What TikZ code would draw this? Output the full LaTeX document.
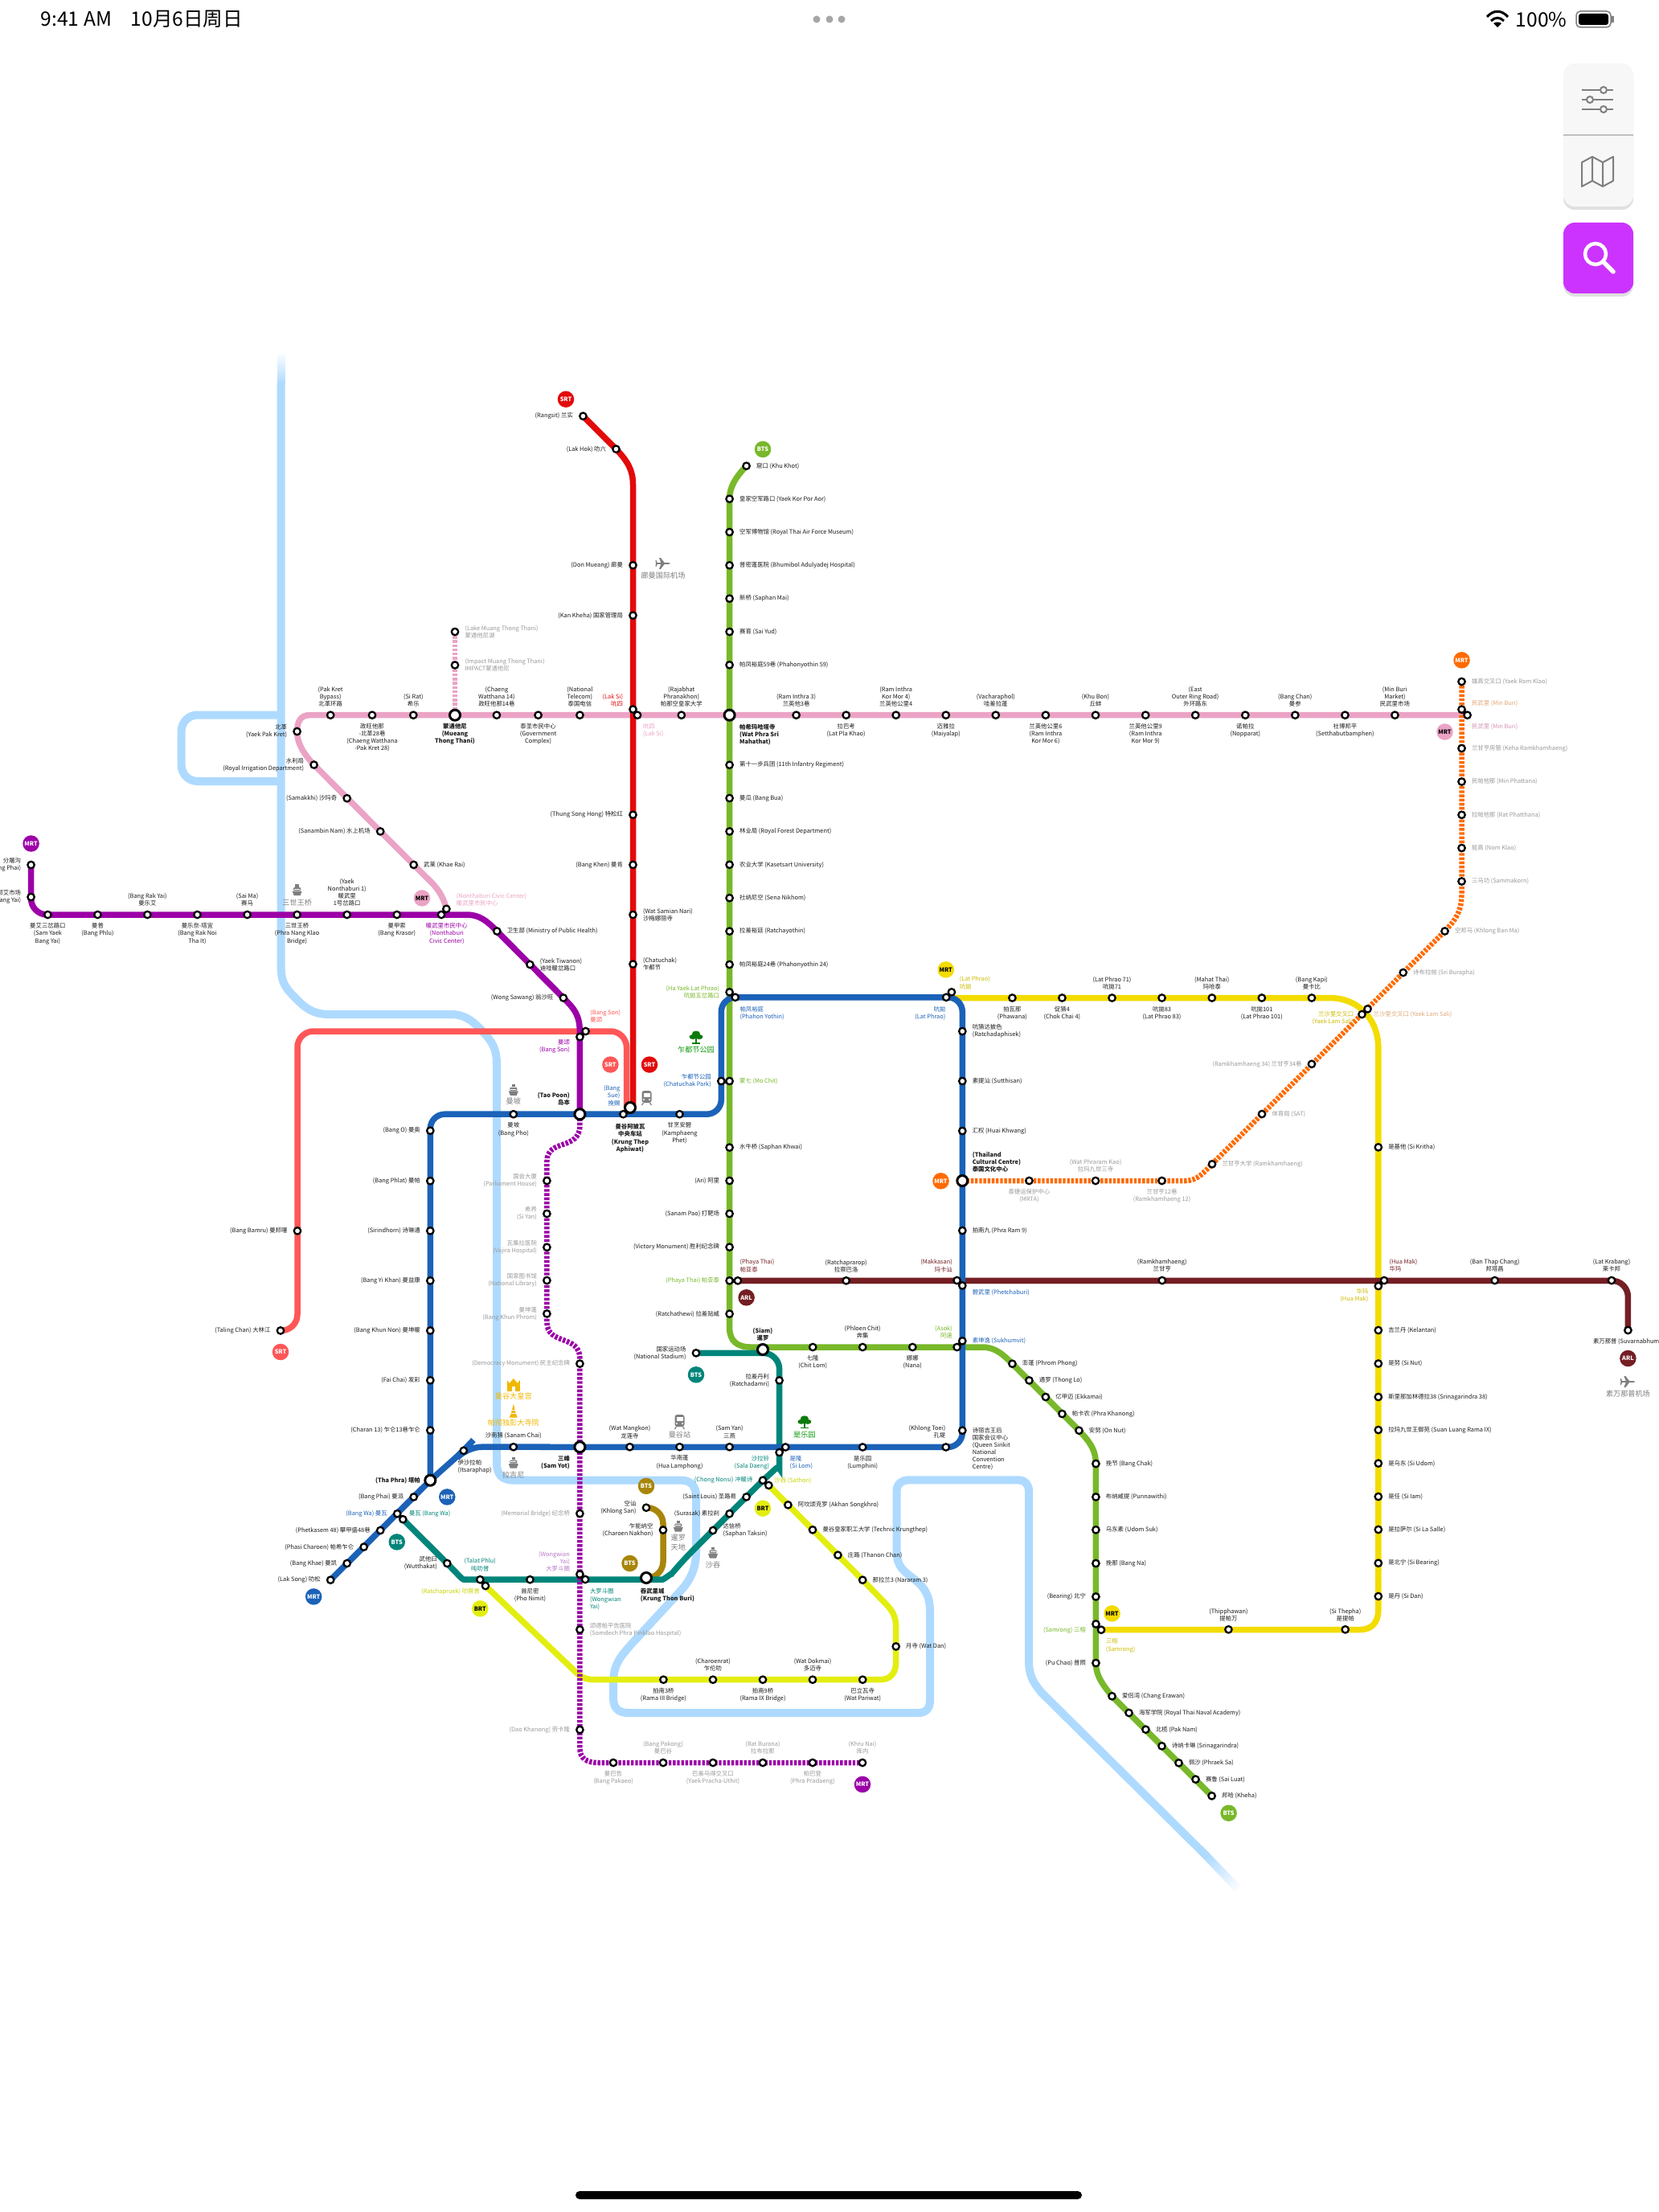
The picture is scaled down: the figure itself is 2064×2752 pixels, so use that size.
\documentclass[tikz,border=0pt]{standalone}
\usepackage{fontspec}
\setmainfont{Noto Sans CJK SC}
\usetikzlibrary{positioning,backgrounds}

\definecolor{ink}{HTML}{1C1C1C}
\definecolor{labgray}{HTML}{9A9A9A}
\definecolor{river}{HTML}{AEDAFF}
\definecolor{cred}{HTML}{E30A0A}
\definecolor{clight}{HTML}{FF5757}
\definecolor{cpink}{HTML}{EBA3C5}
\definecolor{cgreen}{HTML}{78B82A}
\definecolor{cblue}{HTML}{1B62B8}
\definecolor{cyellow}{HTML}{F3DC00}
\definecolor{cpurple}{HTML}{9C00A8}
\definecolor{corange}{HTML}{FF6A00}
\definecolor{cteal}{HTML}{00857A}
\definecolor{cmaroon}{HTML}{741F24}
\definecolor{cgold}{HTML}{A8860A}
\definecolor{clime}{HTML}{E3EE10}
\definecolor{tyellow}{HTML}{CDBB00}
\definecolor{tlime}{HTML}{C8D400}
\definecolor{torange}{HTML}{E0A878}
\definecolor{tmauve}{HTML}{B878C8}
\definecolor{ticon}{HTML}{7F7F7F}
\definecolor{tgold}{HTML}{F0B800}
\definecolor{tpark}{HTML}{0F9A0F}
\definecolor{csearch}{HTML}{CC33FF}

\tikzset{
  stn/.style={circle,draw=black,fill=white,line width=0.023cm,minimum size=0.084cm,inner sep=0pt},
  stnbig/.style={stn,line width=0.03cm,minimum size=0.13cm},
  lbl/.style={font=\fontsize{2.1}{2.6}\selectfont,inner sep=0pt,outer sep=0pt,text=ink},
  bld/.style={font=\fontsize{2.1}{2.6}\selectfont\bfseries},
  gry/.style={text=labgray},
  lalign-right/.style={align=left},
  lalign-left/.style={align=right},
  lalign-above/.style={align=center},
  lalign-below/.style={align=center},
  rail/.style={line width=0.075cm},
  raild/.style={line width=0.065cm,dash pattern=on 0.034cm off 0.018cm},
  link/.style={line width=0.05cm,black},
  badge/.style={circle,inner sep=0pt,minimum size=0.205cm,font=\fontsize{2.1}{2.6}\selectfont\bfseries},
  boat/.pic={
    \fill[ticon] (-6,1.5) -- (6,1.5) -- (4,7) -- (-4,7) -- cycle;
    \fill[ticon,rounded corners=0.01cm] (-4.5,-3) rectangle (4.5,1);
    \fill[ticon] (-2.2,-7) rectangle (2.2,-3.5);
    \draw[white,line width=0.006cm] (-3.5,-1) -- (3.5,-1);
  },
  trainicon/.pic={
    \fill[ticon,rounded corners=0.03cm] (-6,-9) rectangle (6,6);
    \fill[white] (-4,-6) rectangle (4,-1);
    \fill[white] (-3.5,2) circle (0.012cm) (3.5,2) circle (0.012cm);
    \draw[ticon,line width=0.012cm] (-4,6) -- (-6,9) (4,6) -- (6,9);
  },
  treeicon/.pic={
    \fill[tpark!80!black] (0,-5) ellipse (0.05cm and 0.035cm) (-4,-1) ellipse (0.045cm and 0.03cm) (4,-1) ellipse (0.045cm and 0.03cm);
    \fill[tpark!80!black] (-1,0) rectangle (1,6);
    \fill[tpark!80!black] (-5,6) rectangle (5,7.5);
  },
  palaceicon/.pic={
    \fill[tgold] (-8,8) rectangle (8,-1);
    \fill[tgold] (-8,-1) -- (-8,-6) -- (-5,-2) -- (0,-8) -- (5,-2) -- (8,-6) -- (8,-1) -- cycle;
    \fill[white] (-2,8) rectangle (2,2);
  },
  templeicon/.pic={
    \fill[tgold] (0,-10) -- (2,-2) -- (3,2) -- (5,7) -- (-5,7) -- (-3,2) -- (-2,-2) -- cycle;
    \draw[white,line width=0.006cm] (-3,2) -- (3,2) (-2,-2) -- (2,-2);
  },
  planeicon/.pic={
    \fill[ticon] (-8,-0.9) -- (7,-0.9) -- (9,0) -- (7,0.9) -- (-8,0.9) -- cycle;
    \fill[ticon] (2,-0.5) -- (-3,-7) -- (-5,-7) -- (-2.5,-0.5) -- cycle;
    \fill[ticon] (2,0.5) -- (-3,7) -- (-5,7) -- (-2.5,0.5) -- cycle;
    \fill[ticon] (-7,0) -- (-8.5,-4) -- (-9.5,-4) -- (-9,0) -- (-9.5,4) -- (-8.5,4) -- cycle;
  }
}

% station and its label: name, position, side of the label, label options, text
\newcommand{\stn}[6][stn]{%
  \node[#1] (#2) at (#3) {};
  \node[lbl,lalign-#4,#5,#4=of #2.center] (#2-t) {#6};
}

\begin{document}
\begin{tikzpicture}[x=0.01cm,y=-0.01cm,node distance=0.105cm and 0.125cm]
\useasboundingbox (0,0) rectangle (2064,2752);

%%% red line
\stn{rangsit}{725.4,517.7}{left}{}{(Rangsit) 兰实}
\stn{lakhok}{766.5,558.7}{left}{}{(Lak Hok) 叻六}
\foreach \nm/\yy/\lb in {donmueang/703.3/(Don Mueang) 廊曼,kankheha/765.7/(Kan Kheha) 国家管理局,
  thungsonghong/1013.7/(Thung Song Hong) 特松红,bangkhen/1075.9/(Bang Khen) 曼肯}
  \stn{\nm}{787.5,\yy}{left}{}{\lb};
\stn{watsamian}{787.5,1138}{right}{}{(Wat Samian Nari)\\沙梅娜丽寺}
\stn{chatuchakr}{787.5,1199.6}{right}{}{(Chatuchak)\\乍都节}
\stn{laksir}{787.5,882.5}{left}{text=cred,yshift=0.115cm}{(Lak Si)\\吭四}

%%% pink line
\stn{laksip}{793,889.7}{right}{text=cpink,xshift=-0.055cm,yshift=-0.19cm}{吭四\\(Lak Si)}
\stn{yaekpakkret}{369.6,910}{left}{}{北革\\(Yaek Pak Kret)}
\stn{irrigation}{390.6,951.5}{left}{}{水利局\\(Royal Irrigation Department)}
\stn{samakkhi}{431.7,993.2}{left}{}{(Samakkhi) 沙玛奇}
\stn{sanambin}{473.2,1034.4}{left}{}{(Sanambin Nam) 水上机场}
\stn{khaerai}{514.7,1075.9}{right}{}{武莱 (Khae Rai)}
\foreach \nm/\xx/\lb in {pakkretbp/411.2/(Pak Kret\\Bypass)\\北革环路,sirat/514.3/(Si Rat)\\希乐,
  chaeng14/617.9/(Chaeng\\Watthana 14)\\政旺他那14巷,telecom/721.4/(National\\Telecom)\\泰国电信,
  rajabhat/847.8/(Rajabhat\\Phranakhon)\\帕那空皇家大学,ram3/990.6/(Ram Inthra 3)\\兰英他3巷,
  kormor4/1114.7/(Ram Inthra\\Kor Mor 4)\\兰英他公里4,vacharaphol/1238.8/(Vacharaphol)\\哇差拉蓬,
  khubon/1363/(Khu Bon)\\丘蚌,eastouter/1487.2/(East\\Outer Ring Road)\\外环路东,
  bangchan/1611.3/(Bang Chan)\\曼参,minburimkt/1735.4/(Min Buri\\Market)\\民武里市场}
  \stn{\nm}{\xx,889.7}{above}{}{\lb};
\foreach \nm/\xx/\lb in {chaeng28/463/政旺他那\\-北革28巷\\(Chaeng Watthana\\-Pak Kret 28),
  govcomplex/669.6/泰圣市民中心\\(Government\\Complex),latplakhao/1052.7/拉巴考\\(Lat Pla Khao),
  maiyalap/1176.8/迈雅拉\\(Maiyalap),kormor6/1300.9/兰英他公里6\\(Ram Inthra\\Kor Mor 6),
  kormor9/1425.2/兰英他公里9\\(Ram Inthra\\Kor Mor 9),nopparat/1549.3/诺帕拉\\(Nopparat),
  setthabut/1673.4/社博邦平\\(Setthabutbamphen)}
  \stn{\nm}{\xx,889.7}{below}{}{\lb};
\stn[stnbig]{mtt}{566,889.7}{below}{bld}{蒙通他尼\\(Mueang\\Thong Thani)}
\stn{lake}{566,786}{right}{gry}{(Lake Muang Thong Thani)\\蒙通他尼湖}
\stn{impact}{566,827.5}{right}{gry}{(Impact Muang Thong Thani)\\IMPACT蒙通他尼}
\stn[stnbig]{wpsm}{907.6,889.7}{right}{bld,yshift=-0.243cm}{帕希玛哈塔寺\\(Wat Phra Sri\\Mahathat)}
\stn{minburip}{1825.6,889.7}{right}{text=cpink!90!black,xshift=-0.07cm,yshift=-0.147cm}{民武里 (Min Buri)}

%%% orange line
\stn{minburio}{1818.5,882.6}{right}{text=torange,yshift=0.073cm}{民武里 (Min Buri)}
\foreach \nm/\yy/\lb in {romklao/848/雄高交叉口 (Yaek Rom Klao),kehar/931/兰甘亨房管 (Keha Ramkhamhaeng),
  minphattana/972.5/民帕他那 (Min Phattana),ratphatthana/1013.8/拉帕他那 (Rat Phatthana),
  nomklao/1055/能高 (Nom Klao),sammakorn/1096.5/三马功 (Sammakorn)}
  \stn{\nm}{1818.5,\yy}{right}{gry}{\lb};
\stn{banma}{1797.5,1158.5}{right}{gry}{空邦马 (Khlong Ban Ma)}
\stn{sriburapha}{1745.7,1210}{right}{gry}{诗布拉帕 (Sri Burapha)}
\stn{lamsalio}{1701.5,1255.3}{right}{text=torange,xshift=-0.054cm,yshift=-0.067cm}{兰沙里交叉口 (Yaek Lam Sali)}
\stn{ram34}{1631.9,1323.8}{left}{gry}{(Ramkhamhaeng 34) 兰甘亨34巷}
\stn{sat}{1570,1386}{right}{gry}{体育局 (SAT)}
\stn{ramuni}{1508,1448.3}{right}{gry}{兰甘亨大学 (Ramkhamhaeng)}
\stn{ram12}{1445.5,1469}{below}{gry}{兰甘亨12巷\\(Ramkhamhaeng 12)}
\stn{phraram}{1363,1469}{above}{gry}{(Wat Phraram Kao)\\拉玛九世三寺}
\stn{mrta}{1280.4,1469}{below}{gry}{泰捷运保护中心\\(MRTA)}
\stn[stnbig]{tcc}{1197.3,1469}{right}{bld,yshift=0.23cm}{(Thailand\\Cultural Centre)\\泰国文化中心}

%%% yellow line
\stn{latphraoy}{1183.9,1234.3}{right}{text=tyellow,xshift=-0.026cm,yshift=0.115cm}{(Lat Phrao)\\吭拋}
\foreach \nm/\xx/\lb in {phawana/1259.4/拍瓦那\\(Phawana),chokchai4/1321.4/促猜4\\(Chok Chai 4),
  latphrao83/1445.5/吭拋83\\(Lat Phrao 83),latphrao101/1569.8/吭拋101\\(Lat Phrao 101)}
  \stn{\nm}{\xx,1241.5}{below}{}{\lb};
\foreach \nm/\xx/\lb in {latphrao71/1383.5/(Lat Phrao 71)\\吭拋71,mahatthai/1507.8/(Mahat Thai)\\玛哈泰,
  bangkapi/1631.9/(Bang Kapi)\\曼卡比}
  \stn{\nm}{\xx,1241.5}{above}{}{\lb};
\stn{lamsaliy}{1694.4,1262}{left}{text=tyellow,xshift=0.024cm,yshift=-0.05cm}{兰沙里交叉口\\(Yaek Lam Sali)}
\stn{huamaky}{1714.8,1600}{left}{text=tyellow,yshift=-0.12cm}{华玛\\(Hua Mak)}
\foreach \nm/\yy/\lb in {sikritha/1427.3/是基他 (Si Kritha),kelantan/1655/吉兰丹 (Kelantan),sinut/1696.5/是努 (Si Nut),
  srinagarindra38/1738/斯里那加林德拉38 (Srinagarindra 38),suanluang/1779/拉玛九世王御苑 (Suan Luang Rama IX),
  siudom/1820.6/是乌东 (Si Udom),siiam/1862/是任 (Si Iam),silasalle/1903/是拉萨尔 (Si La Salle),
  sibearing/1944.7/是北宁 (Si Bearing),sidan/1986/是丹 (Si Dan)}
  \stn{\nm}{1714.8,\yy}{right}{}{\lb};
\stn{sithepha}{1673.7,2027.3}{above}{}{(Si Thepha)\\是提帕}
\stn{thipphawan}{1528.4,2027.3}{above}{}{(Thipphawan)\\提帕万}
\stn{samrongy}{1370,2027.7}{right}{text=tyellow,xshift=-0.066cm,yshift=-0.196cm}{三榕\\(Samrong)}

%%% green line
\stn{khukhot}{928.6,579.7}{right}{}{窟口 (Khu Khot)}
\foreach \nm/\yy/\lb in {yaekkpa/620.7/皇家空军路口 (Yaek Kor Por Aor),rtafm/662/空军博物馆 (Royal Thai Air Force Museum),
  bhumibol/703.3/普密蓬医院 (Bhumibol Adulyadej Hospital),saphanmai/744.7/新桥 (Saphan Mai),saiyud/786/赛育 (Sai Yud),
  phahon59/827.3/帕凤裕庭59巷 (Phahonyothin 59),inf11/951.7/第十一步兵团 (11th Infantry Regiment),
  bangbua/993/曼瓜 (Bang Bua),forest/1034.4/林业局 (Royal Forest Department),kasetsart/1075.8/农业大学 (Kasetsart University),
  senanikhom/1117.2/社纳尼空 (Sena Nikhom),ratchayothin/1158.6/拉差裕廷 (Ratchayothin),
  phahon24/1200/帕凤裕庭24巷 (Phahonyothin 24),saphankhwai/1427.6/水牛桥 (Saphan Khwai)}
  \stn{\nm}{907.6,\yy}{right}{}{\lb};
\stn{hayaekg}{907.6,1234.3}{left}{text=cgreen}{(Ha Yaek Lat Phrao)\\吭拋五岔路口}
\stn{mochit}{907.6,1345}{right}{text=cgreen}{蒙七 (Mo Chit)}
\foreach \nm/\yy/\lb in {ari/1469/(Ari) 阿里,sanampao/1510/(Sanam Pao) 打靶场,
  victory/1551.6/(Victory Monument) 胜利纪念碑,ratchathewi/1634.6/(Ratchathewi) 拉差贴威}
  \stn{\nm}{907.6,\yy}{left}{}{\lb};
\stn{phayathaig}{907.6,1593.3}{left}{text=cgreen}{(Phaya Thai) 帕亚泰}
\stn[stnbig]{siam}{949,1679}{above}{bld}{(Siam)\\暹罗}
\stn{chitlom}{1011.2,1676}{below}{}{七隆\\(Chit Lom)}
\stn{phloenchit}{1073.2,1676}{above}{}{(Phloen Chit)\\奔集}
\stn{nana}{1135.3,1676}{below}{}{娜娜\\(Nana)}
\stn{asok}{1190.6,1676}{left}{text=cgreen,xshift=0.067cm,yshift=0.19cm}{(Asok)\\阿速}
\foreach \nm/\xx/\yy/\lb in {phromphong/1259.4/1696.7/澎蓬 (Phrom Phong),thonglo/1280.4/1717.4/通罗 (Thong Lo),
  ekkamai/1300.9/1738/亿甲迈 (Ekkamai),phrakhanong/1321.4/1759/帕卡农 (Phra Khanong),onnut/1342.4/1779.7/安努 (On Nut),
  bangchak/1363.4/1821/挽节 (Bang Chak),punnawithi/1363.4/1862.4/布纳威提 (Punnawithi),
  udomsuk/1363.4/1903.3/乌东素 (Udom Suk),bangna/1363.4/1945/挽那 (Bang Na),
  changerawan/1383.5/2110.3/爱侣湾 (Chang Erawan),navalacad/1404.5/2131/海军学院 (Royal Thai Naval Academy),
  paknam/1425.4/2151.7/北榄 (Pak Nam),srinagarindra/1445.5/2172.3/诗纳卡琳 (Srinagarindra),
  phraeksa/1466.5/2193.3/佩沙 (Phraek Sa),sailuat/1487.5/2213.7/赛鲁 (Sai Luat),kheha/1507.6/2234.3/邦哈 (Kheha)}
  \stn{\nm}{\xx,\yy}{right}{}{\lb};
\stn{bearing}{1363.4,1986.4}{left}{}{(Bearing) 北宁}
\stn{samrongg}{1363.4,2020.5}{left}{text=cgreen,yshift=-0.075cm}{(Samrong) 三榕}
\stn{puchao}{1363.4,2069}{left}{}{(Pu Chao) 普照}

%%% blue line
\stn{chatuchakpark}{897.3,1345}{left}{text=cblue}{乍都节公园\\(Chatuchak Park)}
\stn{hayaekb}{914.7,1240.8}{right}{text=cblue,xshift=-0.067cm,yshift=-0.2cm}{帕凤裕庭\\(Phahon Yothin)}
\stn{latphraob}{1177.2,1240.8}{left}{text=cblue,xshift=0.116cm,yshift=-0.2cm}{吭拋\\(Lat Phrao)}
\stn{ratchadaphisek}{1197.3,1283}{right}{}{吭猜达披色\\(Ratchadaphisek)}
\stn{sutthisan}{1197.3,1345}{right}{}{素提汕 (Sutthisan)}
\stn{huaikhwang}{1197.3,1407}{right}{}{汇权 (Huai Khwang)}
\stn{phraram9}{1197.3,1531}{right}{}{拍南九 (Phra Ram 9)}
\stn{phetchaburi}{1197.3,1599.4}{right}{text=cblue,yshift=-0.086cm}{碧武里 (Phetchaburi)}
\stn{sukhumvit}{1197.3,1668.3}{right}{text=cblue}{素坤逸 (Sukhumvit)}
\stn{qsncc}{1197.3,1779.7}{right}{yshift=-0.23cm}{诗丽吉王后\\国家会议中心\\(Queen Sirikit\\National\\Convention\\Centre)}
\stn{khlongtoei}{1176.8,1800.4}{left}{xshift=0.12cm,yshift=0.188cm}{(Khlong Toei)\\孔堤}
\stn{lumphini}{1073.2,1800.4}{below}{}{是乐园\\(Lumphini)}
\stn{silom}{977.2,1800.4}{right}{text=cblue,xshift=-0.07cm,yshift=-0.193cm}{是隆\\(Si Lom)}
\stn{samyan}{907.6,1800.2}{above}{}{(Sam Yan)\\三燕}
\stn{hualamphong}{845.5,1800.2}{below}{}{华南蓬\\(Hua Lamphong)}
\stn{watmangkon}{783.5,1800.2}{above}{}{(Wat Mangkon)\\龙莲寺}
\stn{sanamchai}{638.8,1800.2}{above}{}{沙南猜 (Sanam Chai)}
\stn{itsaraphap}{576.8,1804.8}{right}{xshift=-0.197cm,yshift=-0.197cm}{伊沙拉帕\\(Itsaraphap)}
\stn[stnbig]{thaphra}{535.3,1841.7}{left}{bld}{(Tha Phra) 塔帕}
\stn{kamphaeng}{845.5,1386.2}{below}{}{甘烹安碧\\(Kamphaeng\\Phet)}
\stn{bangsueb}{775.4,1386.2}{left}{text=cblue,xshift=0.085cm,yshift=0.23cm}{(Bang\\Sue)\\挽赐}
\stn[stnbig]{taopoon}{721.4,1386.2}{left}{bld,yshift=0.19cm}{(Tao Poon)\\岛本}
\stn{bangpho}{638.8,1386.2}{below}{}{曼坡\\(Bang Pho)}
\foreach \nm/\xx/\yy/\lb in {bango/535.3/1406.7/(Bang O) 曼奥,bangphlat/535.3/1469.2/(Bang Phlat) 曼帕,
  sirindhorn/535.3/1531.3/(Sirindhorn) 诗琳通,bangyikhan/535.3/1593.3/(Bang Yi Khan) 曼益康,
  bangkhunnon/535.3/1655.4/(Bang Khun Non) 曼坤暖,faichai/535.3/1717.3/(Fai Chai) 发彩,
  charan13/535.3/1779.5/(Charan 13) 乍仑13巷乍仑,bangphai/514.7/1862.4/(Bang Phai) 曼派,
  phetkasem48/473.2/1904/(Phetkasem 48) 攀甲盛48巷,phasi/452.7/1924.6/(Phasi Charoen) 帕希乍仑,
  bangkhae/431.7/1945/(Bang Khae) 曼凯,laksong/411.2/1965.7/(Lak Song) 叻松}
  \stn{\nm}{\xx,\yy}{left}{}{\lb};
\stn{bangwab}{494.2,1883.2}{left}{text=cblue}{(Bang Wa) 曼瓦}

%%% teal line
\stn{bangwat}{501.3,1890.2}{right}{text=cteal,xshift=-0.048cm,yshift=0.07cm}{曼瓦 (Bang Wa)}
\stn{wutthakat}{556.3,1945}{left}{}{武他曰\\(Wutthakat)}
\stn{talatphlu}{597.3,1965.2}{above}{text=cteal}{(Talat Phlu)\\吨叻普}
\stn{phonimit}{659.4,1965.2}{below}{}{首尼密\\(Pho Nimit)}
\stn{wongwiant}{728.1,1965}{right}{text=cteal,xshift=-0.066cm,yshift=-0.247cm}{大罗斗圈\\(Wongwian\\Yai)}
\stn[stnbig]{krungthonburi}{804,1963}{right}{bld,xshift=-0.196cm,yshift=-0.22cm}{吞武里城\\(Krung Thon Buri)}
\stn{saphantaksin}{887,1904}{right}{}{达信桥\\(Saphan Taksin)}
\stn{surasak}{907.6,1883.2}{left}{}{(Surasak) 素拉刹}
\stn{saintlouis}{928.6,1862.4}{left}{}{(Saint Louis) 圣路易}
\stn{chongnonsi}{949,1841.7}{left}{text=cteal}{(Chong Nonsi) 冲暖诗}
\stn{saladaeng}{969.6,1807}{left}{text=cteal,yshift=-0.127cm}{沙拉铃\\(Sala Daeng)}
\stn{ratchadamri}{969.6,1717.4}{left}{}{拉差丹利\\(Ratchadamri)}
\stn{natstadium}{866,1683.3}{left}{}{国家运动场\\(National Stadium)}

%%% gold line
\stn{khlongsan}{804,1875.7}{left}{}{空讪\\(Khlong San)}
\stn{charoennakhon}{825,1903.5}{left}{}{乍能纳空\\(Charoen Nakhon)}

%%% lime line
\stn{ratchapruek}{604,1973}{left}{text=tlime,xshift=0.055cm,yshift=-0.076cm}{(Ratchapruek) 叻察普}
\stn{sathon}{956.3,1847.9}{right}{text=tlime,xshift=-0.054cm,yshift=0.062cm}{沙吞 (Sathon)}
\foreach \nm/\xx/\yy/\lb in {akhan/980.4/1872.3/阿坎颂克罗 (Akhan Songkhro),technic/1011/1903.3/曼谷皇家职工大学 (Technic Krungthep),
  thanonchan/1042.4/1934.7/庄路 (Thanon Chan),nararam3/1073.2/1965.7/那拉兰3 (Nararam 3),watdan/1114.7/2048.4/月寺 (Wat Dan)}
  \stn{\nm}{\xx,\yy}{right}{}{\lb};
\stn{ramaiii}{825.4,2089.7}{below}{}{拍南3桥\\(Rama III Bridge)}
\stn{charoenrat}{887,2089.7}{above}{}{(Charoenrat)\\乍伦叻}
\stn{ramaix}{949,2089.7}{below}{}{拍南9桥\\(Rama IX Bridge)}
\stn{watdokmai}{1011,2089.7}{above}{}{(Wat Dokmai)\\多迈寺}
\stn{watpariwat}{1073.2,2089.7}{below}{}{巴立瓦寺\\(Wat Pariwat)}

%%% airport link
\stn{phayathaia}{917.9,1593.3}{right}{text=cmaroon,xshift=-0.099cm,yshift=0.186cm}{(Phaya Thai)\\帕亚泰}
\stn{ratchaprarop}{1052.7,1593.3}{above}{}{(Ratchaprarop)\\拉察巴洛}
\stn{makkasan}{1190.6,1593}{left}{text=cmaroon,xshift=0.067cm,yshift=0.183cm}{(Makkasan)\\玛卡讪}
\stn{ramkhamhaeng}{1445.8,1593}{above}{}{(Ramkhamhaeng)\\兰甘亨}
\stn{huamaka}{1722,1593}{right}{text=cmaroon,xshift=-0.06cm,yshift=0.187cm}{(Hua Mak)\\华玛}
\stn{banthap}{1859.7,1593}{above}{}{(Ban Thap Chang)\\邦塔昌}
\stn{latkrabang}{2005,1593}{above}{}{(Lat Krabang)\\莱卡邦}
\stn{suvarnabhumi}{2025.4,1655}{below}{}{素万那普 (Suvarnabhumi)}

%%% light red line
\stn{talingchan}{349,1655.4}{left}{}{(Taling Chan) 大林江}
\stn{bangbamru}{370,1531.3}{left}{}{(Bang Bamru) 曼邦噻}
\stn{bangsonr}{728.6,1283}{right}{text=clight,xshift=-0.067cm,yshift=0.19cm}{(Bang Son)\\曼颂}
\stn[stnbig]{krungthep}{784,1378}{below}{bld,yshift=-0.1cm}{曼谷阿披瓦\\中央车站\\(Krung Thep\\Aphiwat)}

%%% purple line
\stn{khlongbp}{38.6,1076}{left}{}{分屠沟\\(Khlong Bang Phai)}
\stn{talad}{38.6,1116}{left}{}{邦艾市场\\(Talad Bang Yai)}
\foreach \nm/\xx/\lb in {samyaek/59.4/曼艾三岔路口\\(Sam Yaek\\Bang Yai),bangphlu/121.5/曼普\\(Bang Phlu),
  raknoi/245.5/曼乐奈-塔宜\\(Bang Rak Noi\\Tha It),phranangklao/369.6/三世王桥\\(Phra Nang Klao\\Bridge),
  bangkrasor/493.8/曼甲索\\(Bang Krasor)}
  \stn{\nm}{\xx,1138}{below}{}{\lb};
\foreach \nm/\xx/\lb in {bangrakyai/183.4/(Bang Rak Yai)\\曼乐艾,saima/307.6/(Sai Ma)\\赛马,
  yaeknon1/431.7/(Yaek\\Nonthaburi 1)\\暖武里\\1号岔路口}
  \stn{\nm}{\xx,1138}{above}{}{\lb};
\stn{civicp}{549,1138}{below}{text=cpurple,xshift=0.068cm}{暖武里市民中心\\(Nonthaburi\\Civic Center)}
\stn{civicn}{555.4,1130.8}{right}{text=cpink,yshift=0.118cm}{(Nonthaburi Civic Center)\\暖武里市民中心}
\stn{health}{618.3,1158.5}{right}{}{卫生部 (Ministry of Public Health)}
\stn{tiwanon}{659.4,1200}{right}{}{(Yaek Tiwanon)\\迪哇暖岔路口}
\stn{wongsawang}{700.9,1241.5}{left}{}{(Wong Sawang) 翁沙旺}
\stn{bangsonp}{721.4,1290}{left}{text=cpurple,yshift=-0.12cm}{曼颂\\(Bang Son)}

%%% purple line, under construction
\foreach \nm/\yy/\lb in {parliament/1469/国会大厦\\(Parliament House),siyan/1510/希养\\(Si Yan),
  vajira/1551.8/瓦集拉医院\\(Vajira Hospital),natlibrary/1593/国家图书馆\\(National Library),
  khunphrom/1634.4/曼坤蓬\\(Bang Khun Phrom)}
  \stn{\nm}{680.4,\yy}{left}{gry}{\lb};
\stn{democracy}{721.4,1696.6}{left}{gry}{(Democracy Monument) 民主纪念碑}
\stn[stnbig]{samyot}{721.4,1800.2}{left}{bld,yshift=-0.193cm}{三峰\\(Sam Yot)}
\stn{memorial}{721.4,1883}{left}{gry}{(Memorial Bridge) 纪念桥}
\stn{wongwianp}{721.4,1958.6}{left}{text=tmauve,yshift=0.16cm}{(Wongwian\\Yai)\\大罗斗圈}
\stn{somdech}{721.4,2027.4}{right}{gry}{颂德帕平告医院\\(Somdech Phra Pinklao Hospital)}
\stn{daokhanong}{721.4,2152}{left}{gry}{(Dao Khanong) 劳卡隆}
\stn{bangpakaeo}{763,2193}{below}{gry}{曼巴告\\(Bang Pakaeo)}
\stn{bangpakong}{825,2193}{above}{gry}{(Bang Pakong)\\曼巴谷}
\stn{prachauthit}{887,2193}{below}{gry}{巴差乌得交叉口\\(Yaek Pracha-Uthit)}
\stn{ratburana}{949,2193}{above}{gry}{(Rat Burana)\\拉布拉那}
\stn{phrapradaeng}{1011,2193}{below}{gry}{帕巴登\\(Phra Pradaeng)}
\stn{khrunai}{1073,2193}{above}{gry}{(Khru Nai)\\库内}

%%% line badges
\foreach \nm/\xx/\yy/\cc/\tc/\lb in {b1/704/496.7/cred/white/SRT,b2/949/559/cgreen/white/BTS,b3/1818.5/821.3/corange/white/MRT,
  b4/1797.5/910.5/cpink/black/MRT,b5/525/1117.4/cpink/black/MRT,b6/38.6/1049.5/cpurple/white/MRT,
  b7/759.4/1324.5/clight/white/SRT,b8/808/1324.5/cred/white/SRT,b9/349/1682/clight/white/SRT,
  b10/1176.8/1206.4/cyellow/black/MRT,b11/1170.5/1469.3/corange/white/MRT,b12/928.6/1614.3/cmaroon/white/ARL,
  b13/2025.4/1690/cmaroon/white/ARL,b14/866/1710.3/cteal/white/BTS,b15/804/1848.8/cgold/white/BTS,
  b16/783.5/1945/cgold/white/BTS,b17/493.8/1918.4/cteal/white/BTS,b18/556.3/1862.4/cblue/white/MRT,
  b19/390.2/1986.4/cblue/white/MRT,b20/949/1876.6/clime/black/BRT,b21/597.3/2001.3/clime/black/BRT,
  b22/1383.5/2007.4/cyellow/black/MRT,b23/1528.6/2255.7/cgreen/white/BTS,b24/1073/2220/cpurple/white/MRT}
  \node[badge,fill=\cc,text=\tc] (\nm) at (\xx,\yy) {\lb};

%%% places
\tikzset{place/.style={font=\fontsize{2.6}{3.3}\selectfont,inner sep=0pt,align=center}}
\pic at (825,701) {planeicon};
\node[place,text=ticon] (p1) at (825,716.4) {廊曼国际机场};
\pic at (2025.4,1719) {planeicon};
\node[place,text=ticon] (p2) at (2025.4,1734) {素万那普机场};
\pic at (369.6,1107) {boat};
\node[place,text=ticon] (p3) at (369.6,1122.8) {三世王桥};
\pic at (638.8,1355.8) {boat};
\node[place,text=ticon] (p4) at (638.8,1370.5) {曼坡};
\pic at (638.8,1819.7) {boat};
\node[place,text=ticon] (p5) at (638.8,1835.5) {拉吉尼};
\pic at (843.8,1898.5) {boat};
\node[place,text=ticon] (p6) at (843.8,1919) {暹罗\\天地};
\pic at (887,1931.7) {boat};
\node[place,text=ticon] (p7) at (887,1947) {沙吞};
\pic at (804.5,1366) {trainicon};
\pic at (845.5,1769) {trainicon};
\node[place,text=ticon] (p8) at (845.5,1785.3) {曼谷站};
\pic at (866,1291) {treeicon};
\node[place,text=tpark] (p9) at (866,1305.8) {乍都节公园};
\pic at (1000.9,1769.8) {treeicon};
\node[place,text=tpark] (p10) at (1000.9,1784.7) {是乐园};
\pic at (638.8,1723) {palaceicon};
\node[place,text=tgold] (p11) at (638.8,1737) {曼谷大皇宫};
\pic at (638.8,1756.7) {templeicon};
\node[place,text=tgold] (p12) at (638.8,1770.4) {帕彻独彭大寺院};

\begin{scope}[on background layer]
\fill[white] (0,0) rectangle (2064,2752);

%%% river
\foreach \t [evaluate=\t as \cc using 5*\t] in {0,...,19}
  \draw[river!\cc,line width=0.1cm] (349.5,437+2*\t) -- (349.5,439.5+2*\t);
\draw[river,line width=0.1cm] (349.5,476) -- (349.5,1200) .. controls (349.5,1225) and (356,1230) .. (372,1246)
  .. controls (384,1258) and (395,1262) .. (410,1262) -- (561,1262) .. controls (580,1262) and (590,1272) .. (602,1285)
  .. controls (612,1296) and (618,1304) .. (618,1325) -- (618,1820) .. controls (618,1835) and (625,1841.7) .. (640,1841.7)
  -- (848,1841.7) .. controls (860,1841.7) and (866,1850) .. (866,1861) -- (866,1930) .. controls (866,1950) and (860,1965) .. (846,1980)
  -- (786,2045) .. controls (770,2063) and (763,2072) .. (763,2095) -- (763,2112) .. controls (763,2125) and (769,2131) .. (782,2131)
  -- (1143,2131) .. controls (1152,2131) and (1157,2125) .. (1157,2116) -- (1157,2005) .. controls (1157,1985) and (1150,1975) .. (1139,1966)
  .. controls (1125,1955) and (1115.6,1950) .. (1115.6,1930) -- (1115.6,1855) .. controls (1115.6,1846) and (1122,1841.4) .. (1130,1841.4)
  -- (1268,1841.4) .. controls (1275,1841.4) and (1280,1847) .. (1280,1855) -- (1280,2065) .. controls (1280,2085) and (1285,2092) .. (1295,2105)
  -- (1500,2308);
\draw[river,line width=0.1cm,rounded corners=0.2cm] (349.5,889.5) -- (225.7,889.5) -- (225.7,972) -- (349.5,972);
\foreach \t [evaluate=\t as \cc using 100-5*\t] in {0,...,19}
  \draw[river!\cc,line width=0.1cm] (1500+2.05*\t,2308+2.15*\t) -- (1502.5+2.05*\t,2310.6+2.15*\t);

%%% lines
\draw[rail,clime] (ratchapruek.center) -- (716,2080) .. controls (722,2086) and (728,2089.7) .. (740,2089.7) -- (1095,2089.7)
  .. controls (1108,2089.7) and (1114.7,2081) .. (1114.7,2068) -- (watdan.center) -- (1114.7,2025) .. controls (1114.7,2005) and (1106,2000) .. (1092,1985)
  -- (nararam3.center) -- (sathon.center);
\draw[rail,cpink] (minburip.center) -- (385,889.7) .. controls (374,889.7) and (369.6,898) .. (yaekpakkret.center)
  .. controls (369.6,925) and (378,938) .. (irrigation.center) -- (khaerai.center) -- (538,1099) .. controls (548,1110) and (552,1118) .. (civicn.center);
\draw[raild,cpink] (lake.center) -- (mtt.center);
\draw[rail,cred] (rangsit.center) -- (lakhok.center) .. controls (781,574) and (787.5,585) .. (787.5,603) -- (donmueang.center) -- (donmueang.center |- krungthep.center);
\draw[rail,clight,rounded corners=0.2cm] (talingchan.center) -- (bangbamru.center |- talingchan.center) -- (bangbamru.center |- bangsonr.center) -- (779.5,1283) -- (779.5,1378);
\draw[rail,cgreen] (khukhot.center) .. controls (915,594) and (907.6,606) .. (yaekkpa.center) -- (907.6,1652) .. controls (907.6,1668) and (917,1676) .. (934,1676)
  -- (1222,1676) .. controls (1238,1676) and (1248,1685) .. (phromphong.center) -- (onnut.center) .. controls (1355,1793) and (1363.4,1803) .. (1363.4,1822)
  -- (puchao.center) .. controls (1363.4,2085) and (1372,2096) .. (changerawan.center) -- (kheha.center);
\draw[rail,cyellow] (latphraoy.center |- phawana.center) -- (1654,1241.5) .. controls (1690,1241.5) and (1714.8,1268) .. (1714.8,1304) -- (1714.8,2003)
  .. controls (1714.8,2019) and (1706,2027.5) .. (1692,2027.5) -- (samrongy.center);
\draw[rail,cmaroon,rounded corners=0.2cm] (phayathaia.center) -- (suvarnabhumi.center |- phayathaia.center) -- (suvarnabhumi.center);
\draw[rail,cgold,rounded corners=0.2cm] (khlongsan.center) -- (charoennakhon.center |- khlongsan.center) -- (charoennakhon.center |- krungthonburi.center) -- (krungthonburi.center);
\draw[rail,cteal,rounded corners=0.2cm] (natstadium.center) -- (ratchadamri.center |- natstadium.center) -- (saladaeng.center)
  .. controls (969.6,1822) and (962,1830) .. (chongnonsi.center) -- (saphantaksin.center) -- (847,1944) .. controls (838,1955) and (826,1965.2) .. (804,1965.2)
  -- (talatphlu.center) .. controls (575,1965.2) and (566,1955) .. (wutthakat.center) -- (bangwat.center);
\draw[rail,cblue,rounded corners=0.18cm] (laksong.center) -- (thaphra.center) -- (itsaraphap.center) -- (581,1800.2) -- (sutthisan.center |- khlongtoei.center)
  -- (sutthisan.center |- hayaekb.center) -- (chatuchakpark.center |- hayaekb.center) -- (chatuchakpark.center |- kamphaeng.center)
  -- (bango.center |- kamphaeng.center) -- (thaphra.center);
\draw[rail,cpurple,rounded corners=0.2cm] (khlongbp.center) |- (civicp.center);
\draw[rail,cpurple] (civicp.center) -- (580,1138) .. controls (597,1138) and (606,1146) .. (health.center) -- (wongsawang.center)
  .. controls (714,1254.6) and (721.4,1262) .. (721.4,1285) -- (taopoon.center);
\draw[raild,cpurple] (taopoon.center) -- (721.4,1400) .. controls (721.4,1432) and (680.4,1416) .. (680.4,1445) -- (khunphrom.center) -- (680.4,1645)
  .. controls (680.4,1674) and (721.4,1660) .. (721.4,1690) -- (daokhanong.center) -- (721.4,2175) .. controls (721.4,2188) and (730,2193) .. (745,2193) -- (khrunai.center);
\draw[raild,corange] (romklao.center) -- (1818.5,1112) .. controls (1818.5,1135) and (1810,1145) .. (banma.center) -- (ramuni.center)
  .. controls (1498,1458) and (1490,1469) .. (1475,1469) -- (tcc.center);

%%% interchange links
\foreach \aa/\bb in {laksir/laksip,minburio/minburip,lamsalio/lamsaliy,bangsonp/bangsonr,civicp/civicn,krungthep/bangsueb,
  latphraob/latphraoy,hayaekg/hayaekb,chatuchakpark/mochit,phayathaig/phayathaia,makkasan/phetchaburi,asok/sukhumvit,
  huamaka/huamaky,samrongg/samrongy,chongnonsi/sathon,saladaeng/silom,bangwab/bangwat,talatphlu/ratchapruek,wongwianp/wongwiant}
  \draw[link] (\aa.center) -- (\bb.center);
\end{scope}

%%% status bar
\node[inner sep=0pt,anchor=west,font=\fontsize{7}{8}\selectfont] (clock) at (50,24) {9:41 AM};
\node[inner sep=0pt,anchor=west,font=\fontsize{7}{8}\selectfont] (date) at (162,24) {10月6日周日};
\node[inner sep=0pt,anchor=west,font=\fontsize{7}{8}\selectfont] (pct) at (1885,24) {100\%};
\foreach \xx in {1016,1032,1047} \fill[gray!70] (\xx,24) circle (0.045cm);
\draw[black,line width=0.03cm] (1850,21) .. controls (1858,12) and (1868,12) .. (1876,21);
\draw[black,line width=0.03cm] (1855,26) .. controls (1860,21) and (1866,21) .. (1871,26);
\fill[black] (1863,34) -- (1858,29) .. controls (1861,27) and (1865,27) .. (1868,29) -- cycle;
\draw[gray,line width=0.015cm,rounded corners=0.05cm] (1961,14) rectangle (2004,34);
\fill[black,rounded corners=0.03cm] (1964,17) rectangle (2001,31);
\fill[gray] (2005,20) rectangle (2008,28);

%%% map buttons
\fill[black!12,rounded corners=0.14cm] (1945,83) rectangle (2032,261);
\fill[gray!6,rounded corners=0.14cm] (1945,79) rectangle (2032,257);
\draw[gray!50,line width=0.015cm] (1945,168) -- (2032,168);
\foreach \xx/\yy in {1995/112,1978/124,1995/136} {
  \draw[ticon,line width=0.02cm] (1968,\yy) -- (2007,\yy);
  \draw[ticon,fill=gray!6,line width=0.02cm] (\xx,\yy) circle (0.04cm);
}
\draw[ticon,line width=0.02cm,line join=round] (1968,202) -- (1981,195) -- (1994,202) -- (2007,195) -- (2007,225) -- (1994,232) -- (1981,225) -- (1968,232) -- cycle
  (1981,195) -- (1981,225) (1994,202) -- (1994,232);
\fill[black!12,rounded corners=0.14cm] (1945,281) rectangle (2032,369);
\fill[csearch,rounded corners=0.14cm] (1945,277) rectangle (2032,365);
\draw[white,line width=0.045cm] (1985,316) circle (0.13cm);
\draw[white,line width=0.055cm,line cap=round] (1995,326) -- (2007,338);

%%% home bar
\fill[black,rounded corners=0.05cm] (716,2726) rectangle (1346,2736);
\end{tikzpicture}
\end{document}
